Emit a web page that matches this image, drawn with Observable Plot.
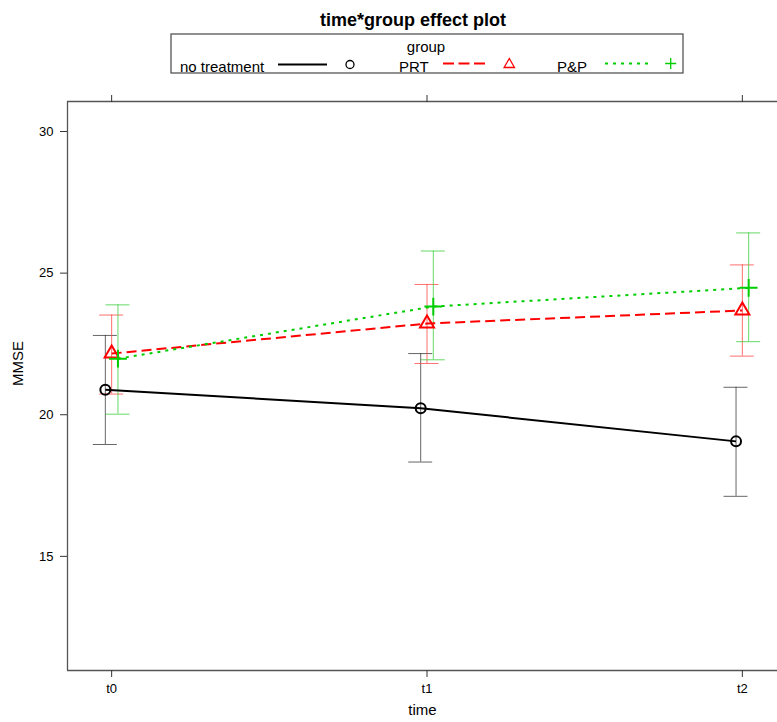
<!DOCTYPE html>
<html>
<head>
<meta charset="utf-8">
<script src="https://cdn.jsdelivr.net/npm/d3@7"></script>
<script src="https://cdn.jsdelivr.net/npm/@observablehq/plot@0.6"></script>
<style>
  body { margin: 0; background: #fff; }
  #wrap { position: relative; width: 777px; height: 722px; overflow: hidden; font-family: "Liberation Sans", Arial, Helvetica, sans-serif; }
  #header { position: absolute; left: 0; top: 0; }
  #chart { position: absolute; left: 0; top: 80px; }
</style>
</head>
<body>
<div id="wrap">
  <svg id="header" width="777" height="80" font-family="Liberation Sans, Arial, Helvetica, sans-serif">
    <text x="413" y="26" text-anchor="middle" font-weight="bold" font-size="18">time*group effect plot</text>
    <text x="426" y="51.5" text-anchor="middle" font-size="15">group</text>
    <text x="180" y="72" font-size="15">no treatment</text>
    <line x1="278" x2="327" y1="64.5" y2="64.5" stroke="#000" stroke-width="2"/>
    <circle cx="350" cy="64.5" r="4" fill="none" stroke="#000" stroke-width="1.3"/>
    <text x="399" y="72" font-size="15">PRT</text>
    <line x1="443" x2="486" y1="63.5" y2="63.5" stroke="#ff0000" stroke-width="2" stroke-dasharray="11,4.5"/>
    <path d="M509.3,58.5 L514.5,67.5 L504.1,67.5 Z" fill="none" stroke="#ff0000" stroke-width="1.3"/>
    <text x="557" y="72" font-size="15">P&amp;P</text>
    <line x1="605" x2="649" y1="63.5" y2="63.5" stroke="#00cd00" stroke-width="2" stroke-dasharray="3,5"/>
    <path d="M665.2,63.5 H676.2 M670.7,58 V69" fill="none" stroke="#00cd00" stroke-width="1.3"/>
    <rect x="171" y="34" width="512" height="39" fill="none" stroke="#555" stroke-width="1.3"/>
  </svg>
  <div id="chart"></div>
</div>
<script>
// ---- data ----
const times = ["t0", "t1", "t2"];
const groups = ["no treatment", "PRT", "P&P"];

const fitNoTreatment   = [20.88, 20.23, 19.06];
const lowerNoTreatment = [18.95, 18.33, 17.12];
const upperNoTreatment = [22.80, 22.16, 20.97];

const fitPRT   = [22.16, 23.22, 23.68];
const lowerPRT = [20.73, 21.81, 22.07];
const upperPRT = [23.52, 24.60, 25.29];

const fitPP   = [21.98, 23.82, 24.48];
const lowerPP = [20.02, 21.94, 22.58];
const upperPP = [23.88, 25.78, 26.42];

const yTicks = [15, 20, 25, 30];

// ---- layout / style ----
const xDomain = [-0.14, 2.14];
const yDomain = [10.97, 31.06];
const dodge = 0.02;
const capHalf = 0.038;

const series = [
  {fit: fitNoTreatment, lower: lowerNoTreatment, upper: upperNoTreatment},
  {fit: fitPRT, lower: lowerPRT, upper: upperPRT},
  {fit: fitPP, lower: lowerPP, upper: upperPP}
];
const styles = [
  {color: "#000000", bar: "#333333", dash: null, symbol: "circle", r: 5, offset: -dodge},
  {color: "#ff0000", bar: "#ff4040", dash: "10,5", symbol: "triangle2", r: 6.7, offset: 0},
  {color: "#00cd00", bar: "#33cc33", dash: "3,5", symbol: "plus", r: 5.8, offset: dodge}
];

const rows = [];
groups.forEach((g, gi) => {
  times.forEach((t, ti) => {
    rows.push({
      group: g, gi, time: t,
      x: ti + styles[gi].offset,
      fit: series[gi].fit[ti],
      lower: series[gi].lower[ti],
      upper: series[gi].upper[ti]
    });
  });
});

const marks = [];
// frame (left, top, bottom)
marks.push(Plot.ruleX([xDomain[0]], {stroke: "#555", strokeWidth: 1.3}));
marks.push(Plot.ruleY(yDomain, {stroke: "#555", strokeWidth: 1.3}));

// axes
marks.push(Plot.axisY(yTicks, {anchor: "left", tickSize: 7, tickPadding: 7, fontSize: 13, stroke: "#333", label: null}));
marks.push(Plot.axisX([0, 1, 2], {anchor: "bottom", tickSize: 7, tickPadding: 6, fontSize: 13, stroke: "#333", tickFormat: i => times[i], label: null}));
marks.push(Plot.axisX([0, 1, 2], {anchor: "top", tickSize: 7, fontSize: 13, stroke: "#333", tickFormat: () => "", label: null}));

// error bars
groups.forEach((g, gi) => {
  const d = rows.filter(r => r.gi === gi);
  const s = styles[gi];
  marks.push(Plot.ruleX(d, {x: "x", y1: "lower", y2: "upper", stroke: s.bar, strokeWidth: 1, strokeOpacity: 0.75}));
  marks.push(Plot.ruleY(d, {y: "lower", x1: r => r.x - capHalf, x2: r => r.x + capHalf, stroke: s.bar, strokeWidth: 1, strokeOpacity: 0.75}));
  marks.push(Plot.ruleY(d, {y: "upper", x1: r => r.x - capHalf, x2: r => r.x + capHalf, stroke: s.bar, strokeWidth: 1, strokeOpacity: 0.75}));
});

// lines and points
groups.forEach((g, gi) => {
  const d = rows.filter(r => r.gi === gi);
  const s = styles[gi];
  marks.push(Plot.line(d, {x: "x", y: "fit", stroke: s.color, strokeWidth: 2, strokeDasharray: s.dash, strokeLinecap: "butt"}));
  marks.push(Plot.dot(d, {x: "x", y: "fit", symbol: () => s.symbol, r: s.r, stroke: s.color, strokeWidth: 2, fill: "none"}));
});

// axis titles
marks.push(Plot.text(["MMSE"], {frameAnchor: "left", dx: -49, rotate: -90, fontSize: 15, fill: "#000"}));
marks.push(Plot.text(["time"], {frameAnchor: "bottom", dy: 44, fontSize: 15, fill: "#000"}));

const chart = Plot.plot({
  width: 777,
  height: 642,
  marginTop: 21,
  marginBottom: 52,
  marginLeft: 67,
  marginRight: 0,
  x: {domain: xDomain, range: [67, 786]},
  y: {domain: yDomain},
  symbol: {type: "identity"},
  style: {fontFamily: "Liberation Sans, Arial, Helvetica, sans-serif", fontSize: "13px", color: "#000", background: "transparent", overflow: "hidden"},
  marks
});
document.getElementById("chart").appendChild(chart);
</script>
</body>
</html>
